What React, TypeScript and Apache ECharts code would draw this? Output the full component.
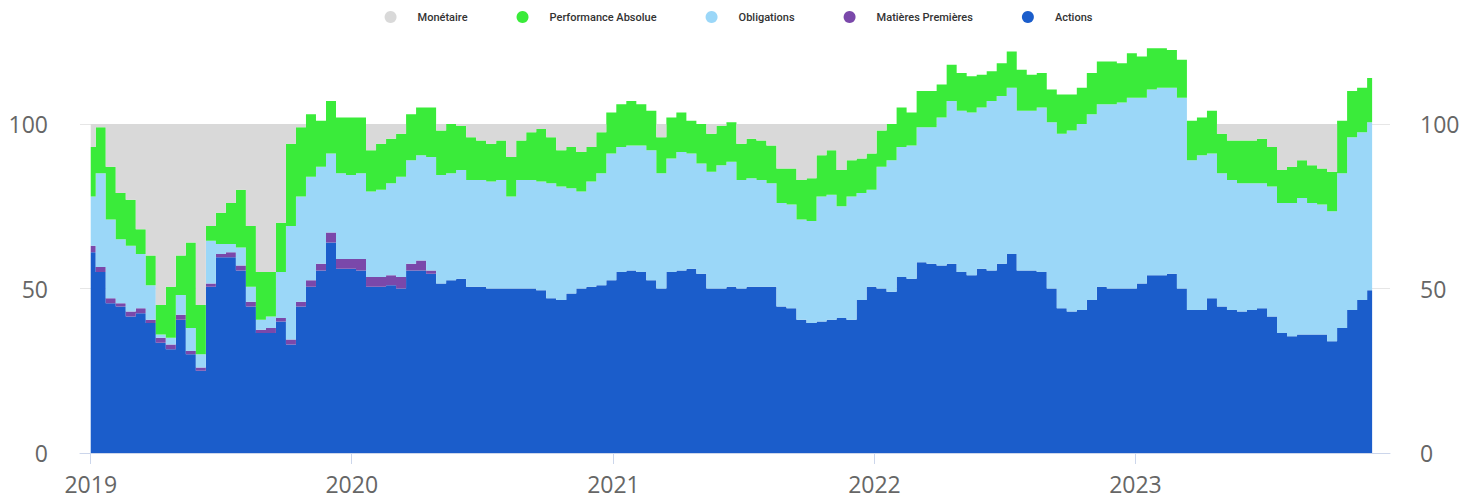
import React, { useEffect, useRef } from "react";
import * as echarts from "echarts";

// Sampling of the reference: one reading every 14 days from this date
const START_DATE = "2019-01-01";
const STEP_DAYS = 14;

const SERIES_NAMES = ["Monétaire", "Performance Absolue", "Obligations", "Matières Premières", "Actions"];
const COLORS: Record<string, string> = {
  "Monétaire": "#d9d9d9",
  "Performance Absolue": "#3aeb3a",
  "Obligations": "#9bd7f8",
  "Matières Premières": "#7a48aa",
  "Actions": "#1b5dcb",
};
const Y_TICKS = [0, 50, 100];

const actions = [
  61, 55, 45.5, 44.5, 41.5, 42.5, 39.5, 33.5, 31.5, 40.5,
  30, 25, 50.5, 59.5, 59.5, 55.5, 44.5, 36.5, 36.5, 40,
  33, 44.5, 50.5, 55.5, 64, 56, 56, 55.5, 50.5, 50.5,
  51, 50, 55.5, 55.5, 54.5, 51.5, 52.5, 53, 50.5, 50.5,
  50, 50, 50, 50, 50, 49.5, 47, 46.5, 48.5, 50,
  50.5, 51, 52.5, 55, 55.5, 55, 52.5, 50, 55, 55.5,
  56, 54.5, 50, 50, 50.5, 50, 50.5, 50.5, 50.5, 44.5,
  44, 40.5, 39.5, 40, 40.5, 41, 40.5, 46.5, 50.5, 50,
  49, 53.5, 53, 58, 57.5, 57, 57.5, 55, 54, 56,
  55.5, 57.5, 60.5, 55.5, 55.5, 55, 50, 44, 43, 43.5,
  46.5, 50.5, 50, 50, 50, 51.5, 54, 54, 54.5, 50,
  43.5, 43.5, 47, 44.5, 43.5, 43, 43.5, 44, 41.5, 36.5,
  35.5, 36, 36, 36, 34, 38, 43.5, 46.5, 49.5,
];

const matieres = [
  2, 1.5, 1.5, 1, 1.5, 1.5, 1, 1.5, 1.5, 1.5,
  1, 1, 1, 1, 1.5, 1.5, 1.5, 1, 1.5, 1,
  1.5, 1.5, 2, 2, 3, 3, 3, 3.5, 3, 3,
  3, 3.5, 2, 3, 1, 0, 0, 0, 0, 0,
  0, 0, 0, 0, 0, 0, 0, 0, 0, 0,
  0, 0, 0, 0, 0, 0, 0, 0, 0, 0,
  0, 0, 0, 0, 0, 0, 0, 0, 0, 0,
  0, 0, 0, 0, 0, 0, 0, 0, 0, 0,
  0, 0, 0, 0, 0, 0, 0, 0, 0, 0,
  0, 0, 0, 0, 0, 0, 0, 0, 0, 0,
  0, 0, 0, 0, 0, 0, 0, 0, 0, 0,
  0, 0, 0, 0, 0, 0, 0, 0, 0, 0,
  0, 0, 0, 0, 0, 0, 0, 0, 0,
];

const obligations = [
  15, 28.5, 24, 19.5, 20, 16.5, 10.5, 1, 2, 6,
  7, 4, 13, 3, 2.5, 5.5, 4.5, 3, 3.5, 14,
  34.5, 32, 31.5, 29.5, 24, 26, 25.5, 26, 26, 26.5,
  28, 30.5, 31.5, 32, 34.5, 33, 32.5, 33, 32.5, 32.5,
  32.5, 33, 28, 33, 33, 33, 35, 34.5, 32, 29.5,
  32, 34, 38.5, 38, 38, 38.5, 39.5, 35, 34.5, 36,
  35, 33.5, 35.5, 37.5, 38, 33, 33, 32.5, 31.5, 31.5,
  31.5, 30.5, 31, 38, 38, 34, 37.5, 32.5, 29.5, 37,
  40, 39.5, 40.5, 41, 41.5, 45, 49.5, 49, 49.5, 49,
  51.5, 51, 50.5, 48.5, 48.5, 50, 50.5, 53, 55, 56.5,
  56.5, 55.5, 56, 56.5, 58, 56.5, 56.5, 57, 56.5, 58,
  45.5, 47, 44, 40.5, 39.5, 39, 38.5, 38, 39.5, 39.5,
  40.5, 41.5, 40, 39.5, 39.5, 47, 52.5, 51, 51,
];

const performance = [
  15, 14, 16, 14, 14, 7.5, 9, 9, 15.5, 12,
  26, 15, 4.5, 9.5, 12.5, 17.5, 18.5, 14.5, 13.5, 15,
  25, 21, 19, 14, 16, 17, 17.5, 17, 12.5, 14,
  13.5, 13, 14, 14.5, 15, 13.5, 15, 13.5, 13, 12,
  11.5, 12, 12, 12, 14.5, 16, 14, 11, 12.5, 12,
  10.5, 12.5, 12.5, 13, 13.5, 12.5, 12, 11, 12.5, 12,
  10, 12, 11.5, 12, 12, 11, 12, 12, 11.5, 10.5,
  11, 12, 13, 12.5, 13.5, 11, 11, 10.5, 11, 11,
  11, 12, 10, 11, 11, 10, 11, 11.5, 11, 10,
  9, 10, 11, 12.5, 11, 10.5, 10, 12, 11, 11,
  12.5, 13, 13, 12, 13.5, 12.5, 12.5, 12, 11.5, 11.5,
  12, 11.5, 13, 12, 12, 13, 13, 13.5, 12, 10,
  11, 11.5, 11.5, 11, 12, 16, 14, 13.5, 13.5,
];

export default function App() {
  const ref = useRef<HTMLDivElement>(null);

  useEffect(() => {
    if (!ref.current) return;
    const chart = echarts.init(ref.current, null, { renderer: "svg" });

    const t0 = Date.parse(START_DATE + "T00:00:00Z");
    const day = 86400000;
    const dates = actions.map((_, i) => t0 + i * STEP_DAYS * day);
    // Monétaire fills the remainder up to 100 %
    const monetaire = actions.map((a, i) =>
      Math.max(0, 100 - (a + matieres[i] + obligations[i] + performance[i]))
    );

    const valuesByName: Record<string, number[]> = {
      "Actions": actions,
      "Matières Premières": matieres,
      "Obligations": obligations,
      "Performance Absolue": performance,
      "Monétaire": monetaire,
    };
    const stackOrder = ["Actions", "Matières Premières", "Obligations", "Performance Absolue", "Monétaire"];

    const series = stackOrder.map((name) => ({
      name,
      type: "line",
      stack: "total",
      step: "middle",
      symbol: "none",
      showSymbol: false,
      lineStyle: { width: 0 },
      itemStyle: { color: COLORS[name] },
      areaStyle: { color: COLORS[name], opacity: 1 },
      data: valuesByName[name].map((v, i) => [dates[i], v]),
    }));

    const labelStyle = {
      fontFamily: "'Open Sans', sans-serif",
      fontSize: 23,
      color: "#666666",
    };

    chart.setOption({
      animation: false,
      backgroundColor: "#ffffff",
      legend: {
        data: SERIES_NAMES,
        top: 6,
        left: "center",
        icon: "circle",
        itemWidth: 44,
        itemHeight: 12,
        itemGap: 49,
        textStyle: {
          fontFamily: "Roboto, sans-serif",
          fontSize: 11,
          fontWeight: 500,
          color: "#333333",
        },
      },
      grid: { left: 80, right: 87, top: 41.75, bottom: 46 },
      xAxis: {
        type: "time",
        min: Date.UTC(2018, 11, 17),
        max: Date.UTC(2023, 11, 23),
        minInterval: 365 * day,
        maxInterval: 366 * day,
        axisLine: { show: true, lineStyle: { color: "#ccd6eb", width: 1 } },
        axisTick: { show: true, length: 11, lineStyle: { color: "#ccd6eb" } },
        splitLine: { show: false },
        axisLabel: { ...labelStyle, margin: 19, formatter: "{yyyy}" },
      },
      yAxis: [
        {
          type: "value",
          min: 0,
          max: 125,
          interval: 50,
          axisLine: { show: false },
          axisTick: { show: false },
          splitLine: {
            show: true,
            lineStyle: { color: ["#e6e6e6", "#e6e6e6", "#e6e6e6", "rgba(0,0,0,0)"], width: 1 },
          },
          axisLabel: {
            ...labelStyle,
            margin: 32,
            formatter: (v: number) => (Y_TICKS.includes(v) ? String(v) : ""),
          },
        },
        {
          type: "value",
          position: "right",
          min: 0,
          max: 125,
          interval: 50,
          axisLine: { show: false },
          axisTick: { show: false },
          splitLine: { show: false },
          axisLabel: {
            ...labelStyle,
            margin: 30,
            formatter: (v: number) => (Y_TICKS.includes(v) ? String(v) : ""),
          },
        },
      ],
      series,
    });

    return () => chart.dispose();
  }, []);

  return (
    <div
      ref={ref}
      style={{ position: "fixed", left: 0, top: 0, width: 1477, height: 499 }}
    />
  );
}
